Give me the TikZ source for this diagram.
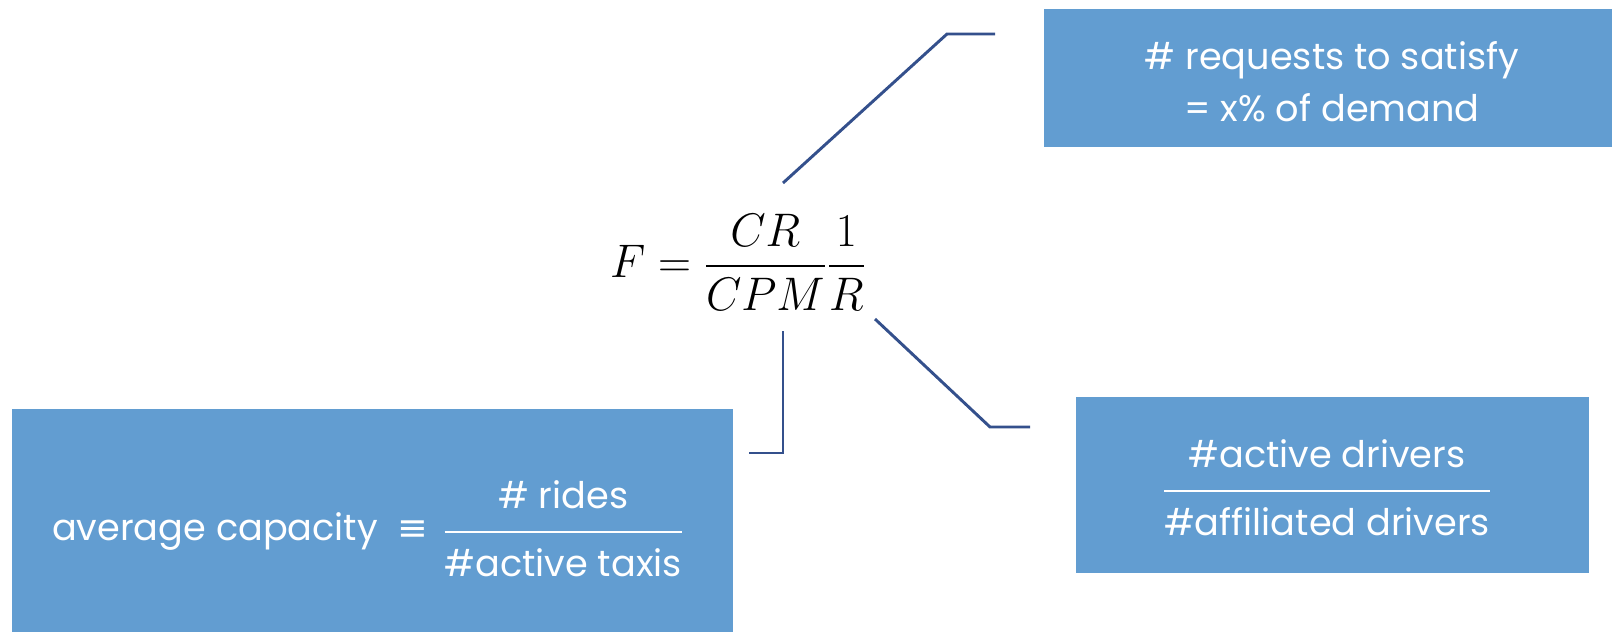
\documentclass[tikz,border=0pt]{standalone}
\usepackage{amsmath}
\usepackage[no-math]{fontspec}
\setmainfont{Poppins}
\newfontfamily\eqvfont{DejaVu Sans}
\definecolor{boxblue}{RGB}{98,157,209}
\definecolor{leaderblue}{RGB}{52,80,140}
\newcommand{\stackfrac}[2]{\begingroup\setlength{\arrayrulewidth}{1.8pt}%
  \renewcommand{\arraystretch}{1}%
  \begin{tabular}{@{}c@{}}#1\\[5pt]\hline\rule{0pt}{32pt}#2\end{tabular}\endgroup}
\begin{document}
\begin{tikzpicture}[x=0.75pt,y=-0.75pt]
\tikzset{
  infobox/.style={fill=boxblue, draw=none, inner sep=0pt},
  boxtext/.style={text=white, inner sep=0pt, align=center,
    font=\fontsize{27.5}{39}\selectfont},
  leader/.style={draw=leaderblue, line width=2.2pt}
}
\useasboundingbox (0,0) rectangle (1612,632);
% formula
\node (formula) at (738,262) {\scalebox{1.38}[1.42]{\Huge$\displaystyle F=\frac{\,CR\,}{CPM}\frac{1}{R}$}};
% boxes
\node[infobox, minimum width=426pt, minimum height=103.5pt] (reqbox) at (1328,78) {};
\node[infobox, minimum width=540.75pt, minimum height=167.25pt] (capbox) at (372.5,520.5) {};
\node[infobox, minimum width=384.75pt, minimum height=132pt] (drvbox) at (1332.5,485) {};
% box texts
\node[boxtext] (reqtext) at (1332,82) {\# requests to satisfy\\= x\% of demand};
\node[boxtext] (captext) at (367,532)
  {average capacity\hspace{15pt}{\eqvfont ≡}\hspace{12pt}\stackfrac{\# rides}{\#active taxis}};
\node[boxtext] (drvtext) at (1327,491) {\stackfrac{\#active drivers}{\#affiliated drivers}};
% leader lines
\coordinate (l1a) at (783,183);
\coordinate (l1b) at (947,34);
\coordinate (l1c) at (995,34);
\coordinate (l2a) at (783,331);
\coordinate (l2b) at (783,453);
\coordinate (l2c) at (749,453);
\coordinate (l3a) at (875,319);
\coordinate (l3b) at (990,427);
\coordinate (l3c) at (1030,427);
\draw[leader] (l1a) -- (l1b) -- (l1c);
\draw[leader] (l2a) -- (l2b) -- (l2c);
\draw[leader] (l3a) -- (l3b) -- (l3c);
\end{tikzpicture}
\end{document}
